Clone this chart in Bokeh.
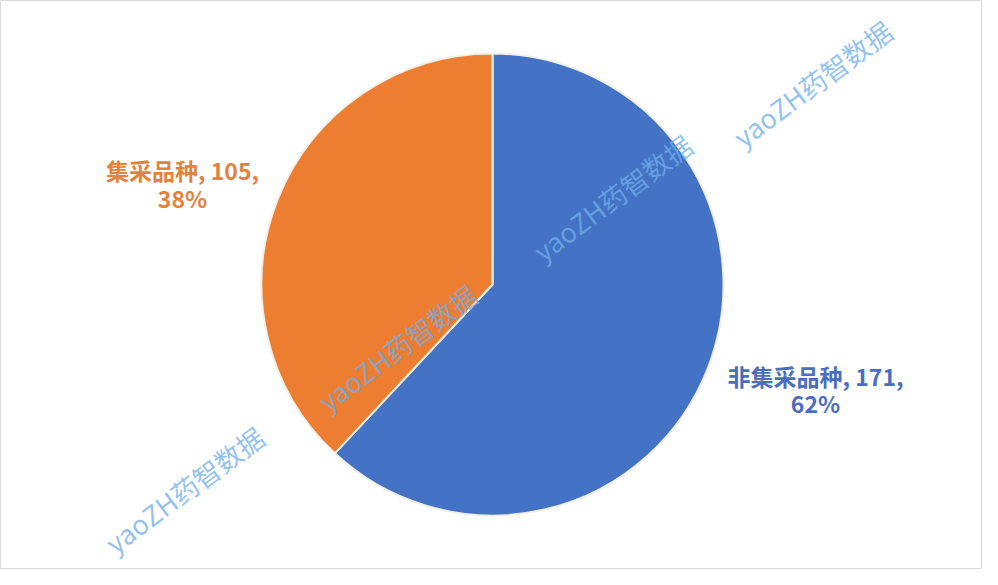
import math
from bokeh.plotting import figure
from bokeh.models import Range1d, ColumnDataSource
from bokeh.core.properties import value
from bokeh.embed import file_html
from bokeh.resources import INLINE

categories = ["非集采品种", "集采品种"]
counts = [171, 105]
colors = ["#4472C4", "#ED7D31"]
label_colors = ["#4A6EBE", "#E3823A"]

W, H = 982, 569
p = figure(width=W, height=H, output_backend="svg", toolbar_location=None,
           x_range=Range1d(0, W), y_range=Range1d(0, H), min_border=0)
p.axis.visible = False
p.grid.visible = False
p.outline_line_color = "#d9d9d9"
p.background_fill_color = "white"

total = sum(counts)
cx, cy, r = 492, 285, 231
# blue slice goes clockwise from 12 o'clock, orange fills the rest
fr = [c / total for c in counts]
start = [math.pi / 2 - 2 * math.pi * fr[0], math.pi / 2]
end = [math.pi / 2, math.pi / 2 + 2 * math.pi * fr[1]]
src = ColumnDataSource(dict(start=start, end=end, color=colors))
p.wedge(x=cx, y=cy, radius=r, start_angle="start", end_angle="end",
        fill_color="color", line_color="#f2f0e4", line_width=2, source=src)

# data labels
pcts = [round(100 * c / total) for c in counts]
line1 = [f"{cat}, {v}," for cat, v in zip(categories, counts)]
line2 = [f"{pc}%" for pc in pcts]
lx = [815, 182]
ly1 = [194, 400]
ly2 = [167, 372]
for i in range(2):
    p.text(x=[lx[i]], y=[ly1[i]], text=[line1[i]], text_align="center",
           text_baseline="middle", text_font=value("Noto Sans CJK SC"),
           text_font_style="bold", text_font_size="23px", text_color=label_colors[i])
    p.text(x=[lx[i]], y=[ly2[i]], text=[line2[i]], text_align="center",
           text_baseline="middle", text_font=value("Noto Sans CJK SC"),
           text_font_style="bold", text_font_size="23px", text_color=label_colors[i])

# watermarks
wx = [812, 612, 397, 184]
wy = [486, 372, 222, 80]
p.text(x=wx, y=wy, text=["yaoZH药智数据"] * 4, angle=0.64, text_align="center",
       text_baseline="middle", text_font=value("Noto Sans CJK SC"),
       text_font_size="27px", text_color="#6FAEEA", text_alpha=0.75)

open("out.html", "w").write(file_html(p, INLINE))
